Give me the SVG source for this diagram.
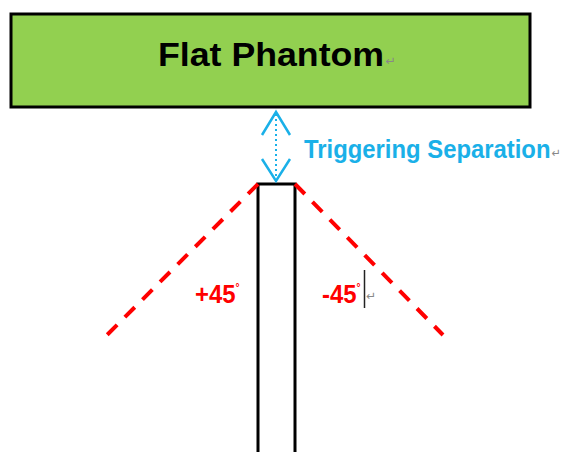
<svg xmlns="http://www.w3.org/2000/svg" width="568" height="452" viewBox="0 0 568 452">
<style>
.lbl{font-family:"Liberation Sans",Arial,sans-serif;font-weight:bold}
.ret{font-family:"DejaVu Sans",sans-serif;fill:#888;font-weight:normal}
.red{fill:#FF0000;font-size:26px}
.dash{stroke:#FF0000;stroke-width:4;stroke-dasharray:14 10.9;fill:none}
</style>
<rect width="568" height="452" fill="#fff"/>
<g id="phantom">
<rect x="11" y="14" width="519" height="93" fill="#92D050" stroke="#000" stroke-width="3"/>
<text class="lbl" transform="translate(158,66) scale(1.05,1)" font-size="34" fill="#000">Flat Phantom<tspan class="ret" font-size="12" dx="1" dy="-1">↵</tspan></text>
</g>
<g id="sensor">
<rect x="258" y="184" width="37" height="275" fill="#fff" stroke="#000" stroke-width="3"/>
</g>
<g id="connectors">
<line x1="276" y1="114" x2="276" y2="180" stroke="#1AB0E8" stroke-width="2" stroke-dasharray="2 3"/>
<polyline points="262,135 276,112 290,135" fill="none" stroke="#1AB0E8" stroke-width="2.5"/>
<polyline points="262,159 276,181 290,159" fill="none" stroke="#1AB0E8" stroke-width="2.5"/>
<line class="dash" x1="258" y1="184" x2="107" y2="335"/>
<line class="dash" x1="295" y1="184" x2="443" y2="335"/>
</g>
<g id="label-sep">
<text class="lbl" transform="translate(304,158) scale(0.918,1)" font-size="26" fill="#1AB0E8">Triggering Separation<tspan class="ret" font-size="12" dx="1" dy="-1">↵</tspan></text>
</g>
<g id="label-plus">
<text class="lbl red" transform="translate(195,303) scale(0.92,1)">+45<tspan font-size="11" dy="-12">°</tspan></text>
</g>
<g id="label-minus">
<text class="lbl red" transform="translate(322,303) scale(0.92,1)">-45<tspan font-size="11" dy="-12">°</tspan></text>
<line x1="364.5" y1="270" x2="364.5" y2="308" stroke="#222" stroke-width="1.5"/>
<text class="ret" x="366" y="300" font-size="12">↵</text>
</g>
</svg>
